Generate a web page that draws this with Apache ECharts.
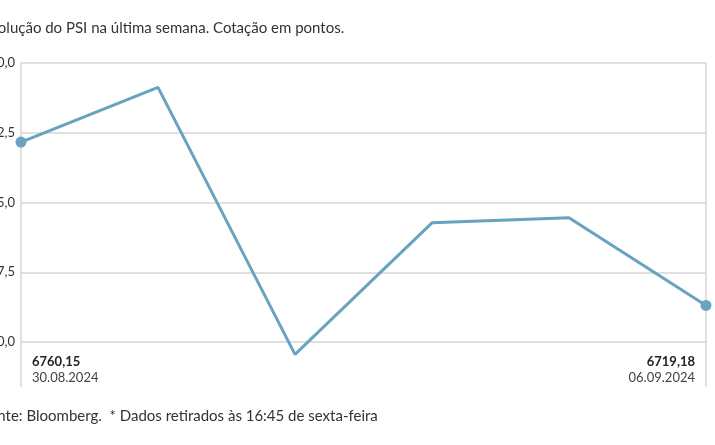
<!DOCTYPE html>
<html>
<head>
<meta charset="utf-8">
<script src="https://cdn.jsdelivr.net/npm/echarts@6/dist/echarts.min.js"></script>
<style>
  html, body { margin: 0; padding: 0; background: #fff; }
  #psi_chart { width: 715px; height: 445px; }
</style>
</head>
<body>
<div id="psi_chart"></div>
<script type="text/javascript">
// dados do PSI na última semana
var dias = ['30.08.2024', '02.09.2024', '03.09.2024', '04.09.2024', '05.09.2024', '06.09.2024'];
var cotacao = [6760.15, 6773.9, 6706.9, 6739.9, 6741.2, 6719.18];
var yMin = 6710;
var yMax = 6780;
var yStep = 17.5;

function fmt(v, d) {
	return v.toFixed(d).replace('.', ',');
}

var ultimo = dias.length - 1;
var psiChart = echarts.init(document.getElementById('psi_chart'));

var options = {
	animation: false,
	textStyle: { fontFamily: 'Lato' },
	title: {
		text: 'Evolução do PSI na última semana. Cotação em pontos.',
		left: -23,
		top: 16,
		textStyle: { fontSize: 15, fontWeight: 'normal', color: '#333', fontFamily: 'Lato' }
	},
	graphic: [{
		type: 'text',
		left: -19,
		top: 409,
		style: {
			text: 'Fonte: Bloomberg.  * Dados retirados às 16:45 de sexta-feira',
			fontSize: 15,
			fill: '#333',
			fontFamily: 'Lato'
		}
	}],
	grid: { left: 21, right: 9, top: 63, bottom: 103, containLabel: false, outerBoundsMode: 'none' },
	xAxis: {
		type: 'category',
		boundaryGap: false,
		data: dias,
		axisLine: { show: false },
		axisTick: {
			show: true,
			length: 45,
			interval: function (i) { return i === 0 || i === ultimo; },
			lineStyle: { color: '#d6d6d6', width: 1.5 }
		},
		splitLine: {
			show: true,
			interval: function (i) { return i === 0 || i === ultimo; },
			lineStyle: { color: '#d6d6d6', width: 1.5 }
		},
		axisLabel: {
			interval: function (i) { return i === 0 || i === ultimo; },
			margin: 12,
			alignMinLabel: 'left',
			alignMaxLabel: 'right',
			formatter: function (v, i) {
				if (i === 0) {
					return '{va|' + fmt(cotacao[0], 2) + '}\n{da|' + v + '}';
				}
				return '{vb|' + fmt(cotacao[ultimo], 2) + '}\n{db|' + v + '}';
			},
			rich: {
				va: { fontSize: 13, fontWeight: 'bold', color: '#222', lineHeight: 16, padding: [0, 0, 0, 11], align: 'left' },
				da: { fontSize: 13, color: '#444', lineHeight: 16, padding: [0, 0, 0, 11], align: 'left' },
				vb: { fontSize: 13, fontWeight: 'bold', color: '#222', lineHeight: 16, padding: [0, 11, 0, 0], align: 'right' },
				db: { fontSize: 13, color: '#444', lineHeight: 16, padding: [0, 11, 0, 0], align: 'right' }
			}
		}
	},
	yAxis: {
		type: 'value',
		min: yMin,
		max: yMax,
		interval: yStep,
		axisLine: { show: false },
		axisTick: { show: false },
		splitLine: { lineStyle: { color: '#d6d6d6', width: 1.5 } },
		axisLabel: {
			margin: 6,
			fontSize: 13,
			color: '#333',
			formatter: function (v) { return fmt(v, 1); }
		}
	},
	series: [{
		name: 'PSI',
		type: 'line',
		data: cotacao,
		clip: false,
		showAllSymbol: true,
		symbol: 'circle',
		symbolSize: function (v, p) {
			return (p.dataIndex === 0 || p.dataIndex === ultimo) ? 11 : 0;
		},
		lineStyle: { color: '#68a3bf', width: 3 },
		itemStyle: { color: '#68a3bf' }
	}]
};
psiChart.setOption(options);
</script>
</body>
</html>
